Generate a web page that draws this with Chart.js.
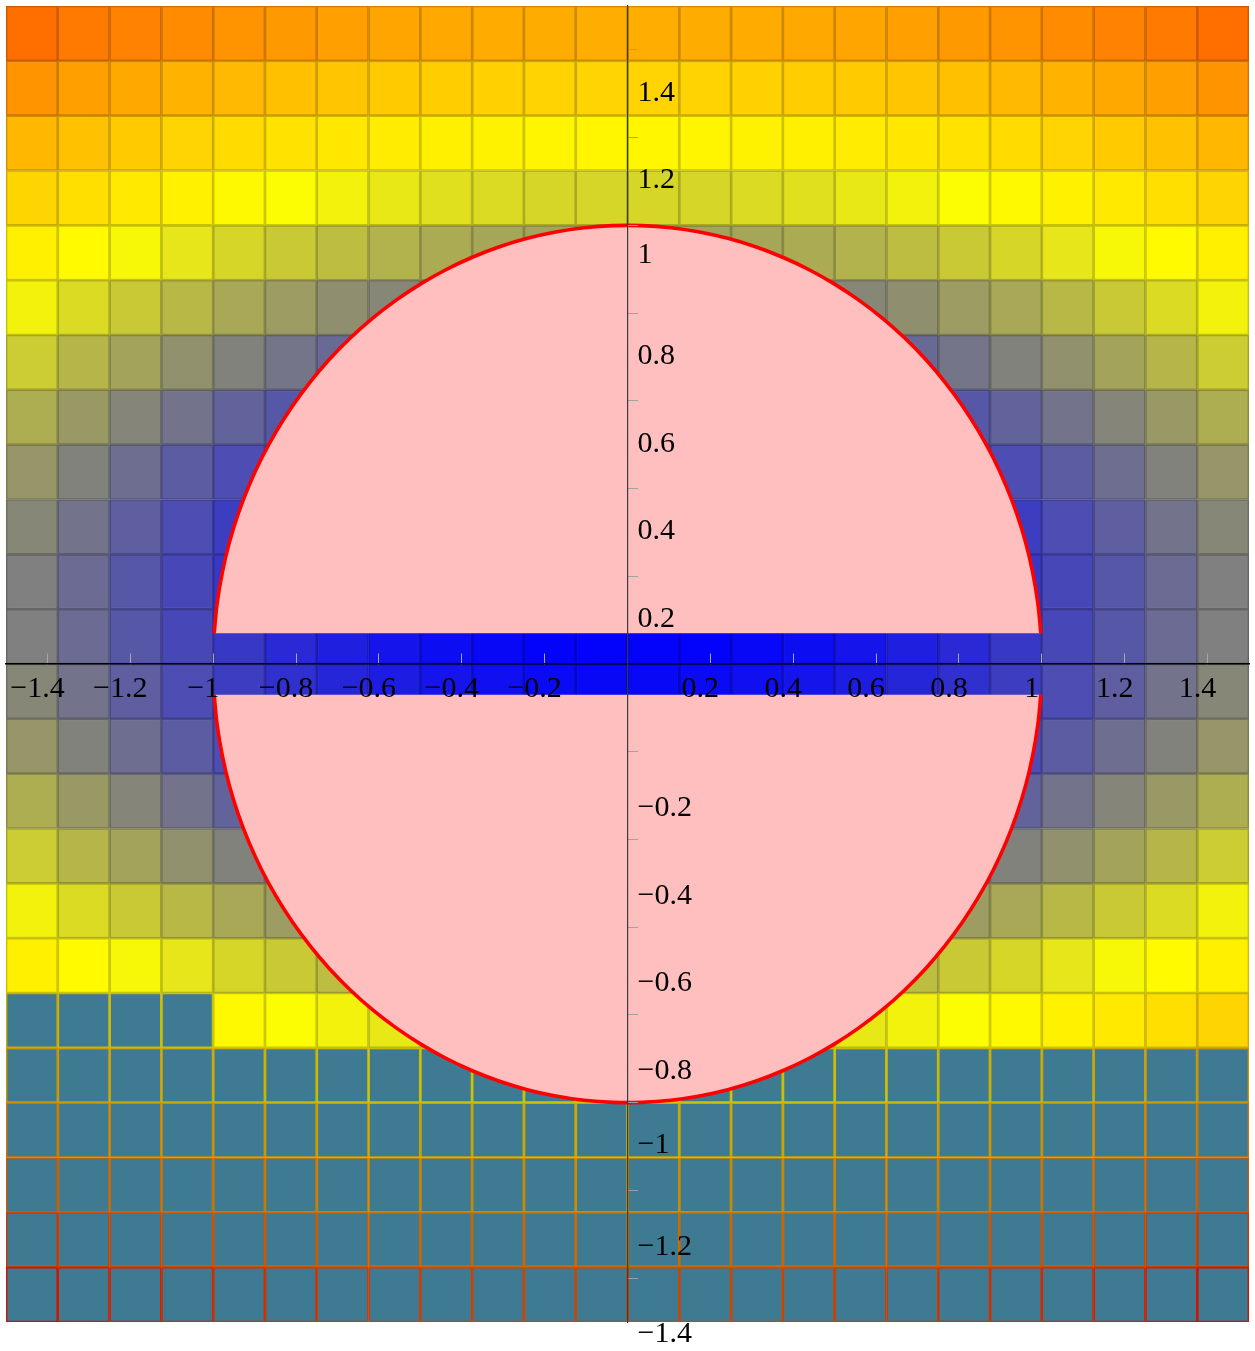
<!DOCTYPE html>
<html><head><meta charset="utf-8">
<script src="https://cdn.jsdelivr.net/npm/chart.js@4/dist/chart.umd.min.js"></script>
<style>html,body{margin:0;padding:0;background:#fff}#wrap{width:1255px;height:1351px}</style>
</head><body><div id="wrap"><canvas id="c" width="1255" height="1351"></canvas></div>
<script>
// ---- data ----
const xCenters = [-1.4375,-1.3125,-1.1875,-1.0625,-0.9375,-0.8125,-0.6875,-0.5625,-0.4375,-0.3125,-0.1875,-0.0625,
                  0.0625,0.1875,0.3125,0.4375,0.5625,0.6875,0.8125,0.9375,1.0625,1.1875,1.3125,1.4375];
const yEdges = [1.5,1.375,1.25,1.125,1,0.875,0.75,0.625,0.5,0.375,0.25,0.125,0,
                -0.125,-0.25,-0.375,-0.5,-0.625,-0.75,-0.875,-1,-1.125,-1.25,-1.375,-1.5];
const zValues = [
 [2.13,2.05,1.98,1.91,1.85,1.80,1.75,1.71,1.68,1.66,1.65,1.64,1.64,1.65,1.66,1.68,1.71,1.75,1.80,1.85,1.91,1.98,2.05,2.13],
 [1.84,1.75,1.68,1.61,1.55,1.50,1.45,1.42,1.39,1.36,1.35,1.34,1.34,1.35,1.36,1.39,1.42,1.45,1.50,1.55,1.61,1.68,1.75,1.84],
 [1.57,1.49,1.41,1.34,1.28,1.23,1.19,1.15,1.12,1.10,1.08,1.07,1.07,1.08,1.10,1.12,1.15,1.19,1.23,1.28,1.34,1.41,1.49,1.57],
 [1.33,1.25,1.17,1.11,1.05,0.99,0.95,0.91,0.88,0.86,0.84,0.84,0.84,0.84,0.86,0.88,0.91,0.95,0.99,1.05,1.11,1.17,1.25,1.33],
 [1.12,1.04,0.97,0.90,0.84,0.79,0.74,0.70,0.67,0.65,0.64,0.63,0.63,0.64,0.65,0.67,0.70,0.74,0.79,0.84,0.90,0.97,1.04,1.12],
 [0.95,0.86,0.79,0.72,0.66,0.61,0.56,0.53,0.50,0.47,0.46,0.45,0.45,0.46,0.47,0.50,0.53,0.56,0.61,0.66,0.72,0.79,0.86,0.95],
 [0.80,0.71,0.64,0.57,0.51,0.46,0.41,0.38,0.35,0.32,0.31,0.30,0.30,0.31,0.32,0.35,0.38,0.41,0.46,0.51,0.57,0.64,0.71,0.80],
 [0.68,0.60,0.52,0.45,0.39,0.34,0.30,0.26,0.23,0.21,0.19,0.18,0.18,0.19,0.21,0.23,0.26,0.30,0.34,0.39,0.45,0.52,0.60,0.68],
 [0.59,0.51,0.43,0.36,0.30,0.25,0.21,0.17,0.14,0.12,0.10,0.09,0.09,0.10,0.12,0.14,0.17,0.21,0.25,0.30,0.36,0.43,0.51,0.59],
 [0.53,0.45,0.37,0.30,0.24,0.19,0.15,0.11,0.08,0.06,0.04,0.03,0.03,0.04,0.06,0.08,0.11,0.15,0.19,0.24,0.30,0.37,0.45,0.53],
 [0.50,0.42,0.34,0.28,0.22,0.16,0.12,0.08,0.05,0.03,0.01,0.01,0.01,0.01,0.03,0.05,0.08,0.12,0.16,0.22,0.28,0.34,0.42,0.50],
 [0.50,0.42,0.34,0.28,0.22,0.16,0.12,0.08,0.05,0.03,0.01,0.01,0.01,0.01,0.03,0.05,0.08,0.12,0.16,0.22,0.28,0.34,0.42,0.50],
 [0.53,0.45,0.37,0.30,0.24,0.19,0.15,0.11,0.08,0.06,0.04,0.03,0.03,0.04,0.06,0.08,0.11,0.15,0.19,0.24,0.30,0.37,0.45,0.53],
 [0.59,0.51,0.43,0.36,0.30,0.25,0.21,0.17,0.14,0.12,0.10,0.09,0.09,0.10,0.12,0.14,0.17,0.21,0.25,0.30,0.36,0.43,0.51,0.59],
 [0.68,0.60,0.52,0.45,0.39,0.34,0.30,0.26,0.23,0.21,0.19,0.18,0.18,0.19,0.21,0.23,0.26,0.30,0.34,0.39,0.45,0.52,0.60,0.68],
 [0.80,0.71,0.64,0.57,0.51,0.46,0.41,0.38,0.35,0.32,0.31,0.30,0.30,0.31,0.32,0.35,0.38,0.41,0.46,0.51,0.57,0.64,0.71,0.80],
 [0.95,0.86,0.79,0.72,0.66,0.61,0.56,0.53,0.50,0.47,0.46,0.45,0.45,0.46,0.47,0.50,0.53,0.56,0.61,0.66,0.72,0.79,0.86,0.95],
 [1.12,1.04,0.97,0.90,0.84,0.79,0.74,0.70,0.67,0.65,0.64,0.63,0.63,0.64,0.65,0.67,0.70,0.74,0.79,0.84,0.90,0.97,1.04,1.12],
 [1.33,1.25,1.17,1.11,1.05,0.99,0.95,0.91,0.88,0.86,0.84,0.84,0.84,0.84,0.86,0.88,0.91,0.95,0.99,1.05,1.11,1.17,1.25,1.33],
 [1.57,1.49,1.41,1.34,1.28,1.23,1.19,1.15,1.12,1.10,1.08,1.07,1.07,1.08,1.10,1.12,1.15,1.19,1.23,1.28,1.34,1.41,1.49,1.57],
 [1.84,1.75,1.68,1.61,1.55,1.50,1.45,1.42,1.39,1.36,1.35,1.34,1.34,1.35,1.36,1.39,1.42,1.45,1.50,1.55,1.61,1.68,1.75,1.84],
 [2.13,2.05,1.98,1.91,1.85,1.80,1.75,1.71,1.68,1.66,1.65,1.64,1.64,1.65,1.66,1.68,1.71,1.75,1.80,1.85,1.91,1.98,2.05,2.13],
 [2.46,2.38,2.30,2.23,2.17,2.12,2.08,2.04,2.01,1.99,1.97,1.96,1.96,1.97,1.99,2.01,2.04,2.08,2.12,2.17,2.23,2.30,2.38,2.46],
 [2.82,2.73,2.66,2.59,2.53,2.48,2.43,2.40,2.37,2.34,2.33,2.32,2.32,2.33,2.34,2.37,2.40,2.43,2.48,2.53,2.59,2.66,2.73,2.82]
];
// number of cells (from the left) per row that are filled with the mask colour
const maskedCols = [0,0,0,0,0,0,0,0,0,0,0,0,0,0,0,0,0,0,4,24,24,24,24,24];

const xTickValues = [-1.4,-1.2,-1,-0.8,-0.6,-0.4,-0.2,0.2,0.4,0.6,0.8,1,1.2,1.4];
const xTickLabels = ['\u22121.4','\u22121.2','\u22121','\u22120.8','\u22120.6','\u22120.4','\u22120.2','0.2','0.4','0.6','0.8','1','1.2','1.4'];
const yTickValues = [1.4,1.2,1,0.8,0.6,0.4,0.2,-0.2,-0.4,-0.6,-0.8,-1,-1.2,-1.4];
const yTickLabels = ['1.4','1.2','1','0.8','0.6','0.4','0.2','\u22120.2','\u22120.4','\u22120.6','\u22120.8','\u22121','\u22121.2','\u22121.4'];

// circle outline points (unit circle), cut at the horizontal band
const arcX = [-0.9976,-0.9903,-0.9781,-0.9613,-0.9397,-0.9135,-0.8829,-0.8480,-0.8090,-0.7660,-0.7193,-0.6691,-0.6157,-0.5592,-0.5000,-0.4384,-0.3746,-0.3090,-0.2419,-0.1736,-0.1045,-0.0349,
              0.0349,0.1045,0.1736,0.2419,0.3090,0.3746,0.4384,0.5000,0.5592,0.6157,0.6691,0.7193,0.7660,0.8090,0.8480,0.8829,0.9135,0.9397,0.9613,0.9781,0.9903,0.9976];
const arcUpperY = [0.0698,0.1392,0.2079,0.2756,0.3420,0.4067,0.4695,0.5299,0.5878,0.6428,0.6947,0.7431,0.7880,0.8290,0.8660,0.8988,0.9272,0.9511,0.9703,0.9848,0.9945,0.9994,
                   0.9994,0.9945,0.9848,0.9703,0.9511,0.9272,0.8988,0.8660,0.8290,0.7880,0.7431,0.6947,0.6428,0.5878,0.5299,0.4695,0.4067,0.3420,0.2756,0.2079,0.1392,0.0698];
const arcLowerY = [-0.0698,-0.1392,-0.2079,-0.2756,-0.3420,-0.4067,-0.4695,-0.5299,-0.5878,-0.6428,-0.6947,-0.7431,-0.7880,-0.8290,-0.8660,-0.8988,-0.9272,-0.9511,-0.9703,-0.9848,-0.9945,-0.9994,
                   -0.9994,-0.9945,-0.9848,-0.9703,-0.9511,-0.9272,-0.8988,-0.8660,-0.8290,-0.7880,-0.7431,-0.6947,-0.6428,-0.5878,-0.5299,-0.4695,-0.4067,-0.3420,-0.2756,-0.2079,-0.1392,-0.0698];
const bandUpper = 0.07;
const bandLower = -0.07;

// ---- styling ----
const colormapStops = [[0,0,255],[255,255,0],[255,128,0],[255,0,0]];
const maskColor = '#3e7a92';

function cmap(t) {
  const n = colormapStops.length - 1;
  const tt = Math.max(0, Math.min(n, t));
  const i = Math.min(Math.floor(tt), n - 1);
  const f = tt - i;
  const a = colormapStops[i], b = colormapStops[i + 1];
  return [0,1,2].map(k => a[k] + (b[k] - a[k]) * f);
}
function rgb(c, s) { return 'rgb(' + c.map(v => Math.round(v * s)).join(',') + ')'; }

const datasets = [];
// circle halves (drawn on top)
datasets.push({
  type: 'line', data: arcX.map((x, k) => ({x: x, y: arcUpperY[k]})),
  borderColor: '#ff0000', borderWidth: 3.6, backgroundColor: '#ffbfbf',
  fill: {value: bandUpper}, pointRadius: 0, tension: 0.4, order: 0
});
datasets.push({
  type: 'line', data: arcX.map((x, k) => ({x: x, y: arcLowerY[k]})),
  borderColor: '#ff0000', borderWidth: 3.6, backgroundColor: '#ffbfbf',
  fill: {value: bandLower}, pointRadius: 0, tension: 0.4, order: 0
});
// surface cells, one dataset per row
zValues.forEach((row, i) => {
  const bg = [], bc = [];
  row.forEach((z, j) => {
    const c = cmap(z);
    bg.push(j < maskedCols[i] ? maskColor : rgb(c, 1));
    bc.push(rgb(c, 0.8));
  });
  datasets.push({
    type: 'bar',
    data: xCenters.map(x => ({x: x, y: [yEdges[i + 1], yEdges[i]]})),
    backgroundColor: bg, borderColor: bc, borderWidth: 1.7, borderSkipped: false,
    grouped: false, barPercentage: 1, categoryPercentage: 1, order: 1
  });
});

function texWidth(s) {
  let w = 0;
  for (const ch of s) w += (ch === '.') ? 8.3 : (ch === '\u2212' ? 23.3 : 15);
  return w;
}

const labelPlugin = {
  id: 'axisLabels',
  afterDraw(chart) {
    const ctx = chart.ctx, xs = chart.scales.x, ys = chart.scales.y;
    const axisY = ys.getPixelForValue(0), axisX = xs.getPixelForValue(0);
    ctx.save();
    ctx.font = '30px "Liberation Serif", "Times New Roman", serif';
    ctx.fillStyle = '#000';
    ctx.textBaseline = 'alphabetic';
    ctx.textAlign = 'center';
    xTickValues.forEach((v, i) => ctx.fillText(xTickLabels[i], xs.getPixelForValue(v) - 10, axisY + 33));
    ctx.textAlign = 'left';
    yTickValues.forEach((v, i) => {
      const lab = yTickLabels[i];
      ctx.fillText(lab, axisX + 10, ys.getPixelForValue(v) + 28.5 + 0.58 * texWidth(lab));
    });
    ctx.restore();
  }
};

new Chart(document.getElementById('c'), {
  type: 'bar',
  data: {datasets: datasets},
  options: {
    responsive: false, animation: false, devicePixelRatio: 1, events: [],
    layout: {padding: {left: 6, right: 6, top: 6, bottom: 29}},
    plugins: {legend: {display: false}, tooltip: {enabled: false}},
    scales: {
      x: {
        type: 'linear', position: {y: 0}, min: -1.5, max: 1.5, offset: false,
        afterBuildTicks: s => { s.ticks = xTickValues.map(v => ({value: v})); },
        ticks: {display: false},
        grid: {display: true, offset: false, drawOnChartArea: false, drawTicks: true, tickLength: -11, color: '#a8a8a8', lineWidth: 1, z: 1},
        border: {display: true, color: '#000', width: 1.5, z: 2}
      },
      y: {
        type: 'linear', position: {x: 0}, min: -1.5, max: 1.5,
        afterBuildTicks: s => { s.ticks = yTickValues.map(v => ({value: v})); },
        ticks: {display: false},
        grid: {display: true, offset: false, drawOnChartArea: false, drawTicks: true, tickLength: -11, color: '#a0a0a0', lineWidth: 1, z: 1},
        border: {display: true, color: '#3a3a3a', width: 1.2, z: 2}
      }
    }
  },
  plugins: [labelPlugin]
});
</script>
</body></html>
